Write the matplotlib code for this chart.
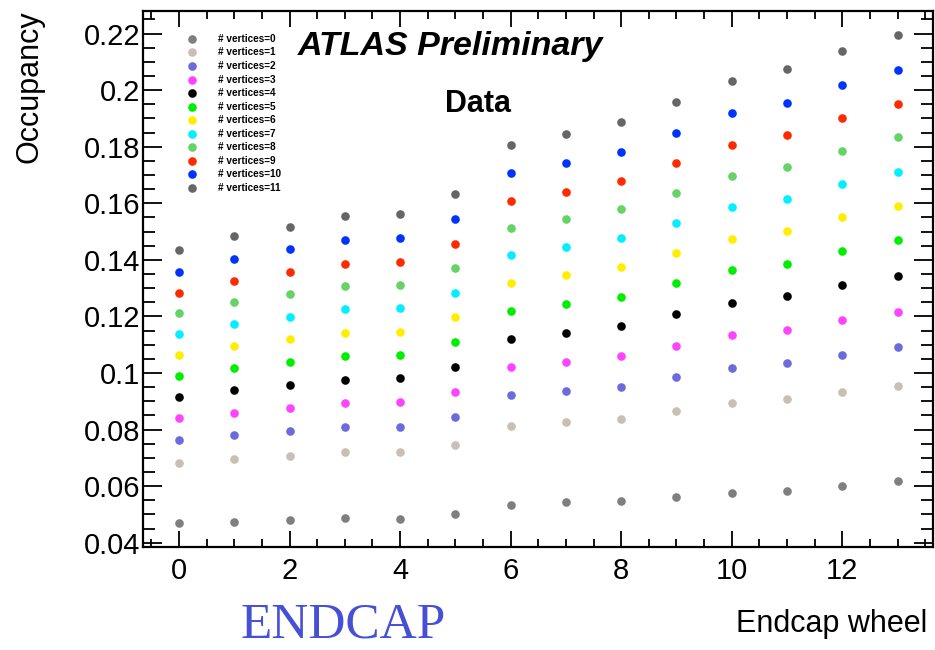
import matplotlib
matplotlib.use("Agg")
import matplotlib.pyplot as plt
from matplotlib.ticker import MultipleLocator

wheels = list(range(14))
labels = [f"# vertices={i}" for i in range(12)]
colors = ["#7f7f7f", "#c8bfb5", "#6b6bdb", "#ff44ff", "#000000", "#00ee00",
          "#ffee00", "#00f0ff", "#66d366", "#ff2a00", "#0033ff", "#666666"]

occ = [
    [0.0469, 0.0472, 0.0480, 0.0486, 0.0485, 0.0501, 0.0535, 0.0543, 0.0547, 0.0563, 0.0576, 0.0584, 0.0601, 0.0617],
    [0.0683, 0.0696, 0.0708, 0.0720, 0.0720, 0.0747, 0.0814, 0.0827, 0.0838, 0.0867, 0.0894, 0.0908, 0.0933, 0.0955],
    [0.0765, 0.0782, 0.0795, 0.0809, 0.0811, 0.0843, 0.0922, 0.0937, 0.0952, 0.0986, 0.1018, 0.1034, 0.1065, 0.1091],
    [0.0841, 0.0860, 0.0878, 0.0894, 0.0897, 0.0934, 0.1020, 0.1039, 0.1060, 0.1097, 0.1133, 0.1153, 0.1188, 0.1217],
    [0.0917, 0.0939, 0.0958, 0.0977, 0.0981, 0.1023, 0.1121, 0.1143, 0.1166, 0.1207, 0.1248, 0.1271, 0.1310, 0.1344],
    [0.0991, 0.1018, 0.1039, 0.1061, 0.1064, 0.1110, 0.1220, 0.1244, 0.1270, 0.1317, 0.1364, 0.1387, 0.1431, 0.1469],
    [0.1065, 0.1095, 0.1119, 0.1143, 0.1146, 0.1197, 0.1318, 0.1347, 0.1375, 0.1425, 0.1475, 0.1503, 0.1550, 0.1590],
    [0.1138, 0.1172, 0.1198, 0.1225, 0.1230, 0.1284, 0.1416, 0.1444, 0.1476, 0.1531, 0.1588, 0.1617, 0.1667, 0.1710],
    [0.1212, 0.1250, 0.1278, 0.1306, 0.1312, 0.1372, 0.1514, 0.1544, 0.1579, 0.1638, 0.1698, 0.1730, 0.1784, 0.1833],
    [0.1284, 0.1325, 0.1356, 0.1385, 0.1393, 0.1455, 0.1609, 0.1641, 0.1679, 0.1742, 0.1807, 0.1842, 0.1901, 0.1950],
    [0.1359, 0.1404, 0.1437, 0.1470, 0.1476, 0.1545, 0.1708, 0.1742, 0.1783, 0.1850, 0.1920, 0.1955, 0.2020, 0.2070],
    [0.1436, 0.1484, 0.1517, 0.1555, 0.1562, 0.1634, 0.1807, 0.1844, 0.1888, 0.1958, 0.2032, 0.2074, 0.2137, 0.2194],
]

plt.rcParams['font.family'] = ['Liberation Sans', 'DejaVu Sans']

fig = plt.figure(figsize=(9.35, 6.5), dpi=100)
ax = fig.add_axes([143/935, 1 - 547/650, (933-143)/935, (547-11)/650])

for i in range(12):
    ax.plot(wheels, occ[i], linestyle='none', marker='o', markersize=6.2,
            markeredgewidth=0, color=colors[i])

ax.set_xlim(-0.65, 13.64)
ax.set_ylim(0.0385, 0.228)
ax.xaxis.set_major_locator(MultipleLocator(2))
ax.xaxis.set_minor_locator(MultipleLocator(0.5))
ax.yaxis.set_major_locator(MultipleLocator(0.02))
ax.yaxis.set_minor_locator(MultipleLocator(0.005))
ax.set_yticks([0.04, 0.06, 0.08, 0.1, 0.12, 0.14, 0.16, 0.18, 0.2, 0.22])
ax.set_yticklabels(["0.04", "0.06", "0.08", "0.1", "0.12", "0.14", "0.16", "0.18", "0.2", "0.22"])
ax.tick_params(which='both', direction='in', top=True, right=True, width=1.3, labelsize=21)
ax.tick_params(axis='x', which='major', length=11.5, pad=7)
ax.tick_params(axis='x', which='minor', length=5.8)
ax.tick_params(axis='y', which='major', length=13.5, pad=2)
ax.tick_params(axis='y', which='minor', length=8.5)
for s in ax.spines.values():
    s.set_linewidth(1.6)

# legend
for i in range(12):
    y = 0.948 - i * (0.948 - 0.670) / 11
    ax.plot([0.062], [y], transform=ax.transAxes, marker='o', markersize=6.2,
            markeredgewidth=0, color=colors[i], clip_on=False)
    ax.text(0.095, y, labels[i], transform=ax.transAxes, fontsize=7.2,
            fontweight='bold', va='center', ha='left')

fig.text(298/935, 1 - 55/650, "ATLAS Preliminary", fontsize=24.5, fontweight='bold',
         fontstyle='italic', ha='left', va='baseline')
fig.text(478/935, 1 - 112/650, "Data", fontsize=22, fontweight='bold', ha='center', va='baseline')

fig.text(30/935, 1 - 10/650, "Occupancy", fontsize=22, rotation=90, ha='center', va='top')
fig.text(927/935, 1 - 632/650, "Endcap wheel", fontsize=22, ha='right', va='baseline')
fig.text(343/935, 1 - 638/650, "ENDCAP", fontsize=37, family='Liberation Serif',
         color='#4550d6', ha='center', va='baseline')

fig.savefig("out.png", dpi=100)
